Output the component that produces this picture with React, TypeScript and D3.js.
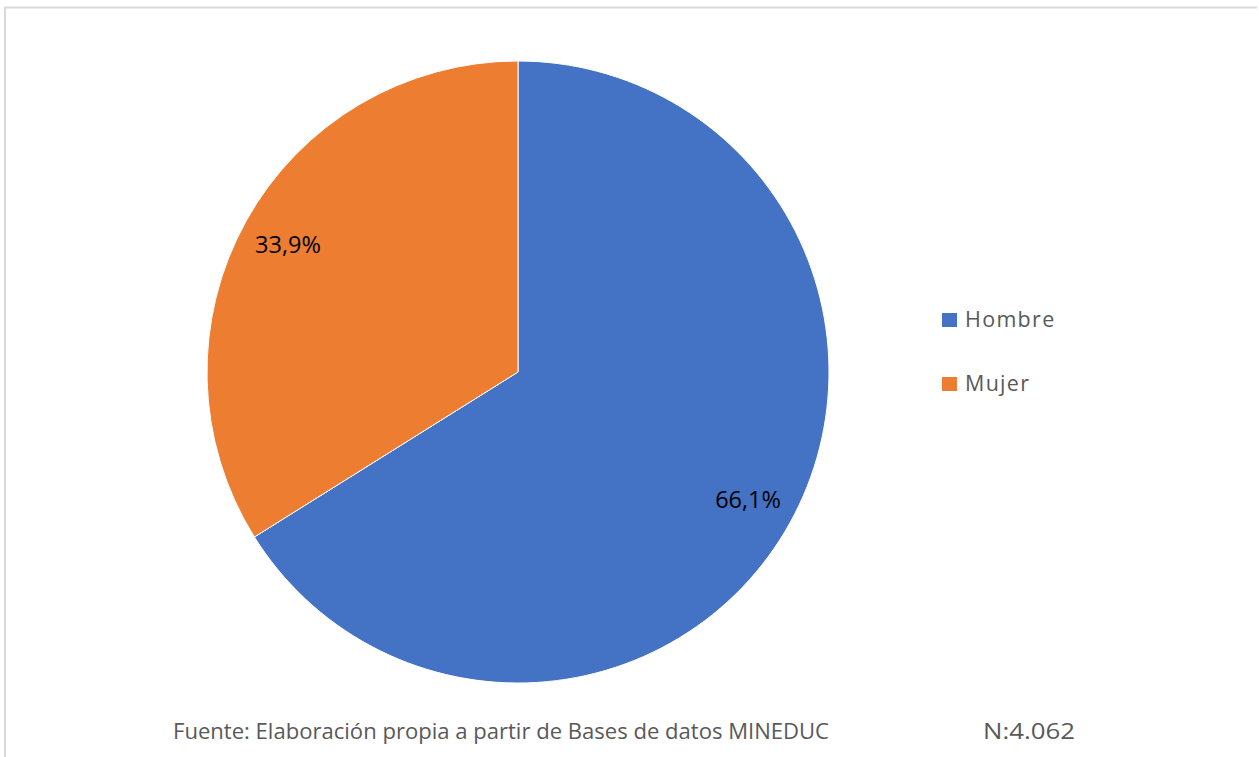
import React from "react";
import * as d3 from "d3";

const categories = ["Hombre", "Mujer"];
const values = [66.1, 33.9];
const labels = ["66,1%", "33,9%"];
const colors = ["#4472C4", "#ED7D31"];
const footerSource = "Fuente: Elaboración propia a partir de Bases de datos MINEDUC";
const footerN = "N:4.062";

export default function App() {
  const W = 1259, H = 757;
  const cx = 518, cy = 372, R = 311;
  const pie = d3.pie<number>().sort(null).value((d) => d)(values);
  const arc = d3.arc<d3.PieArcDatum<number>>().innerRadius(0).outerRadius(R);
  const labelArc = d3.arc<d3.PieArcDatum<number>>().innerRadius(263).outerRadius(263);
  const font = "'Open Sans', 'Liberation Sans', sans-serif";
  return (
    <svg width={W} height={H} style={{ position: "absolute", left: 0, top: 0, background: "#fff" }}>
      <rect x={0} y={0} width={W} height={H} fill="#fff" />
      <line x1={4} y1={7.5} x2={1257} y2={7.5} stroke="#d9d9d9" strokeWidth={2} />
      <line x1={5} y1={7} x2={5} y2={H} stroke="#d9d9d9" strokeWidth={2} />
      <g transform={`translate(${cx},${cy})`}>
        {pie.map((p, i) => (
          <path key={categories[i]} d={arc(p) || ""} fill={colors[i]} stroke="#fff" strokeWidth={1} />
        ))}
        {pie.map((p, i) => {
          const [x, y] = labelArc.centroid(p);
          return (
            <text key={"l" + i} x={x} y={y} dy="0.36em" textAnchor="middle" fontFamily={font} fontSize={23.5} fill="#000">
              {labels[i]}
            </text>
          );
        })}
      </g>
      {categories.map((c, i) => (
        <g key={"lg" + c} transform={`translate(942,${313 + i * 64})`}>
          <rect x={0} y={0} width={15} height={14} fill={colors[i]} />
          <text x={23} y={14} fontFamily={font} fontSize={21.5} fill="#595959" letterSpacing={1.3}>
            {c}
          </text>
        </g>
      ))}
      <text x={173} y={739} fontFamily={font} fontSize={21} fill="#595959" textLength={656} lengthAdjust="spacingAndGlyphs">
        {footerSource}
      </text>
      <text x={983} y={739} fontFamily={font} fontSize={21} fill="#595959" textLength={92} lengthAdjust="spacingAndGlyphs">
        {footerN}
      </text>
    </svg>
  );
}
